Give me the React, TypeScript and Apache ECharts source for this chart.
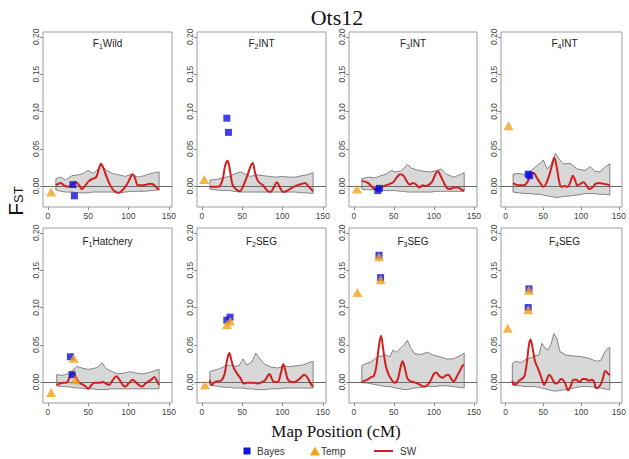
import React, { useEffect, useRef } from "react";
import * as echarts from "echarts";

type P = [number, number];
type B = [number, number, number];

// ---------- labels / ticks ----------
const mainTitle = "Ots12";
const xTitle = "Map Position (cM)";
const yTitleMain = "F";
const yTitleSub = "ST";
const panelSub = ["1", "2", "3", "4", "1", "2", "3", "4"];
const panelRest = ["Wild", "INT", "INT", "INT", "Hatchery", "SEG", "SEG", "SEG"];
const xTicks = [0, 50, 100, 150];
const yTicks = [0, 0.05, 0.1, 0.15, 0.2];
const legendNames = ["Bayes", "Temp", "SW"];

// ---------- F1 Wild ----------
const f1WildSW: P[] = [[10,0.001],[13,0.003],[16,0.004],[20,0.001],[25,-0.001],[30,0.002],[35,0.005],[39,0.001],[42,-0.004],[46,0.000],[51,0.007],[56,0.010],[60,0.012],[63,0.022],[66,0.030],[69,0.024],[73,0.012],[77,0.002],[81,-0.005],[85,-0.008],[88,-0.009],[92,-0.006],[96,-0.001],[100,0.006],[103,0.013],[105,0.016],[108,0.011],[112,0.001],[117,0.001],[122,0.002],[127,0.003],[131,0.002],[135,-0.002],[138,-0.005]];
const f1WildBand: B[] = [[10,-0.005,0.010],[16,-0.007,0.012],[22,-0.008,0.008],[30,-0.008,0.014],[38,-0.009,0.015],[44,-0.009,0.017],[50,-0.009,0.021],[56,-0.008,0.017],[60,-0.008,0.020],[66,-0.008,0.028],[73,-0.008,0.021],[80,-0.008,0.017],[88,-0.009,0.015],[96,-0.008,0.013],[104,-0.007,0.016],[112,-0.007,0.012],[120,-0.007,0.014],[128,-0.006,0.017],[138,-0.005,0.019]];
const f1WildBayes: P[] = [[31,0.002],[33,-0.013]];
const f1WildTemp: P[] = [[4,-0.008]];

// ---------- F2 INT ----------
const f2IntSW: P[] = [[10,-0.001],[16,-0.001],[22,0.000],[26,0.010],[29,0.028],[32,0.034],[35,0.020],[38,0.002],[42,-0.004],[47,-0.007],[52,0.002],[57,0.016],[61,0.028],[63,0.031],[66,0.018],[69,0.008],[72,0.004],[76,0.001],[81,-0.006],[85,-0.008],[89,-0.002],[93,0.005],[97,-0.002],[101,-0.008],[106,-0.006],[112,-0.002],[118,0.001],[124,0.003],[128,0.004],[132,0.000],[138,-0.007]];
const f2IntBand: B[] = [[10,-0.004,0.008],[18,-0.005,0.009],[26,-0.006,0.011],[34,-0.006,0.013],[40,-0.007,0.016],[48,-0.008,0.019],[54,-0.008,0.016],[60,-0.008,0.013],[68,-0.008,0.015],[76,-0.008,0.014],[84,-0.008,0.013],[92,-0.008,0.012],[100,-0.008,0.013],[108,-0.008,0.012],[116,-0.008,0.012],[124,-0.009,0.014],[130,-0.009,0.015],[138,-0.010,0.018]];
const f2IntBayes: P[] = [[31,0.091],[33,0.072]];
const f2IntTemp: P[] = [[3,0.009]];

// ---------- F3 INT ----------
const f3IntSW: P[] = [[10,0.007],[14,0.006],[18,0.004],[22,0.000],[26,-0.004],[30,-0.003],[35,-0.001],[40,0.001],[45,0.003],[49,0.005],[54,0.012],[58,0.016],[62,0.014],[66,0.007],[70,0.002],[74,0.004],[78,0.002],[82,-0.002],[86,0.001],[90,0.000],[94,0.002],[98,0.006],[102,0.016],[105,0.020],[108,0.015],[112,0.006],[116,-0.002],[120,-0.004],[125,-0.002],[130,-0.002],[135,-0.005],[138,-0.006]];
const f3IntBand: B[] = [[10,-0.004,0.010],[18,-0.005,0.012],[26,-0.005,0.011],[34,-0.005,0.014],[40,-0.006,0.016],[47,-0.006,0.021],[52,-0.006,0.019],[58,-0.007,0.020],[63,-0.007,0.024],[67,-0.008,0.029],[72,-0.008,0.024],[78,-0.008,0.022],[86,-0.008,0.020],[96,-0.008,0.019],[104,-0.007,0.021],[109,-0.007,0.023],[116,-0.007,0.016],[125,-0.007,0.012],[132,-0.007,0.015],[138,-0.007,0.018]];
const f3IntBayes: P[] = [[30,-0.006],[32,-0.003]];
const f3IntTemp: P[] = [[4,-0.004]];

// ---------- F4 INT ----------
const f4IntSW: P[] = [[10,0.004],[14,0.002],[19,0.001],[24,0.001],[28,0.004],[32,0.012],[35,0.018],[38,0.017],[42,0.010],[46,0.004],[50,-0.001],[53,0.002],[57,0.012],[61,0.026],[64.5,0.038],[68,0.024],[71,0.006],[74,-0.001],[78,0.000],[82,-0.001],[86,0.006],[89,0.014],[92,0.008],[95,0.001],[99,0.003],[103,0.005],[107,0.001],[111,-0.004],[115,-0.002],[119,0.003],[124,0.004],[130,0.003],[135,0.002],[138,0.001]];
const f4IntBand: B[] = [[10,-0.008,0.016],[18,-0.009,0.017],[26,-0.010,0.015],[33,-0.010,0.020],[40,-0.011,0.026],[46,-0.011,0.031],[50,-0.012,0.035],[55,-0.013,0.023],[60,-0.014,0.028],[66,-0.015,0.044],[71,-0.015,0.036],[76,-0.014,0.030],[86,-0.013,0.030],[95,-0.012,0.023],[105,-0.010,0.021],[112,-0.010,0.026],[118,-0.010,0.020],[125,-0.011,0.019],[131,-0.011,0.025],[138,-0.012,0.030]];
const f4IntBayes: P[] = [[30,0.016],[32,0.014]];
const f4IntTemp: P[] = [[4,0.081]];

// ---------- F1 Hatchery ----------
const f1HatchSW: P[] = [[11,-0.004],[15,-0.002],[19,-0.001],[23,-0.001],[26,0.004],[29,0.011],[32,0.012],[35,0.006],[39,-0.001],[43,-0.003],[47,-0.006],[50,-0.009],[54,-0.004],[58,-0.001],[63,-0.001],[68,0.000],[72,-0.002],[76,-0.004],[80,0.002],[85,0.008],[89,0.003],[93,-0.004],[96,-0.006],[100,-0.002],[105,0.003],[109,0.000],[113,-0.004],[117,-0.006],[121,-0.002],[125,0.001],[129,0.004],[132,0.007],[135,0.002],[138,-0.004]];
const f1HatchBand: B[] = [[11,-0.005,0.010],[18,-0.006,0.009],[24,-0.006,0.011],[30,-0.007,0.015],[36,-0.008,0.021],[42,-0.008,0.019],[50,-0.009,0.017],[56,-0.009,0.018],[62,-0.010,0.020],[67,-0.010,0.026],[72,-0.010,0.018],[78,-0.009,0.015],[86,-0.009,0.011],[94,-0.009,0.012],[102,-0.009,0.014],[110,-0.009,0.012],[118,-0.009,0.011],[126,-0.009,0.013],[132,-0.009,0.015],[138,-0.009,0.017]];
const f1HatchBayes: P[] = [[28,0.034],[30,0.010]];
const f1HatchTemp: P[] = [[4,-0.014],[32,0.032],[34,0.003]];

// ---------- F2 SEG ----------
const f2SegSW: P[] = [[10,0.003],[12,-0.004],[16,0.000],[20,0.001],[24,0.002],[28,0.010],[31,0.028],[34,0.039],[37,0.028],[40,0.018],[44,0.011],[48,0.005],[52,-0.002],[56,-0.001],[60,-0.001],[65,-0.001],[70,-0.002],[74,0.000],[78,0.002],[82,0.009],[84,0.011],[87,0.004],[90,0.000],[94,0.000],[98,0.012],[101,0.024],[104,0.014],[107,0.003],[112,0.000],[117,0.001],[122,0.005],[127,0.010],[131,0.006],[135,-0.002],[138,-0.006]];
const f2SegBand: B[] = [[10,-0.004,0.014],[16,-0.005,0.016],[22,-0.006,0.018],[28,-0.007,0.021],[34,-0.007,0.023],[40,-0.008,0.021],[46,-0.008,0.022],[51,-0.008,0.031],[56,-0.009,0.023],[62,-0.009,0.027],[67,-0.010,0.039],[72,-0.010,0.031],[78,-0.010,0.024],[86,-0.009,0.020],[94,-0.009,0.019],[102,-0.008,0.021],[110,-0.008,0.021],[118,-0.008,0.022],[126,-0.008,0.023],[132,-0.008,0.026],[138,-0.008,0.028]];
const f2SegBayes: P[] = [[31,0.083],[35,0.087]];
const f2SegTemp: P[] = [[4,-0.004],[31,0.077],[35,0.082]];

// ---------- F3 SEG ----------
const f3SegSW: P[] = [[10,0.000],[14,0.002],[18,0.004],[22,0.007],[25,0.008],[28,0.020],[31,0.045],[34,0.062],[37,0.042],[40,0.022],[44,0.009],[48,0.002],[51,-0.001],[55,0.004],[58,0.018],[61,0.028],[64,0.018],[67,0.005],[71,0.001],[75,0.000],[80,-0.002],[85,-0.005],[88,-0.006],[92,-0.004],[96,0.002],[100,0.011],[103,0.013],[107,0.008],[111,0.006],[115,0.009],[118,0.010],[122,0.004],[125,0.001],[129,0.008],[133,0.016],[136,0.022],[138,0.023]];
const f3SegBand: B[] = [[10,-0.001,0.022],[15,-0.001,0.025],[20,-0.002,0.026],[25,-0.003,0.030],[30,-0.004,0.034],[35,-0.005,0.035],[40,-0.006,0.036],[45,-0.006,0.034],[49,-0.007,0.043],[53,-0.008,0.040],[58,-0.009,0.045],[63,-0.010,0.050],[67,-0.010,0.056],[71,-0.009,0.046],[76,-0.008,0.038],[84,-0.007,0.037],[92,-0.006,0.040],[100,-0.006,0.036],[108,-0.005,0.034],[116,-0.005,0.031],[124,-0.006,0.031],[132,-0.007,0.035],[138,-0.008,0.039]];
const f3SegBayes: P[] = [[31.5,0.170],[33.5,0.140]];
const f3SegTemp: P[] = [[4.5,0.120],[31.5,0.168],[33.5,0.137]];

// ---------- F4 SEG ----------
const f4SegSW: P[] = [[9,0.002],[11,-0.003],[14,-0.003],[17,0.001],[21,0.004],[25,0.008],[28,0.025],[31,0.050],[33,0.057],[36,0.044],[39,0.028],[43,0.018],[46,0.010],[49,0.001],[51,-0.004],[54,0.002],[58,0.010],[61,0.006],[64,0.000],[67,-0.002],[70,0.000],[73,0.004],[76,0.003],[79,-0.002],[83,-0.011],[86,-0.006],[90,0.003],[94,0.003],[98,0.000],[102,0.004],[106,0.004],[110,0.002],[114,0.003],[117,0.001],[120,-0.008],[124,-0.006],[128,0.002],[132,0.015],[135,0.012],[138,0.009]];
const f4SegBand: B[] = [[9,-0.004,0.025],[14,-0.005,0.028],[20,-0.005,0.026],[26,-0.006,0.030],[32,-0.006,0.032],[38,-0.006,0.035],[44,-0.007,0.036],[48,-0.008,0.052],[52,-0.009,0.046],[56,-0.010,0.043],[60,-0.011,0.050],[64,-0.012,0.065],[68,-0.012,0.058],[72,-0.011,0.041],[80,-0.010,0.036],[90,-0.008,0.035],[100,-0.006,0.034],[110,-0.006,0.032],[120,-0.007,0.028],[126,-0.008,0.029],[131,-0.009,0.040],[135,-0.010,0.045],[138,-0.010,0.046]];
const f4SegBayes: P[] = [[30,0.100],[31,0.125]];
const f4SegTemp: P[] = [[3,0.072],[30,0.097],[31,0.123]];

const swList = [f1WildSW, f2IntSW, f3IntSW, f4IntSW, f1HatchSW, f2SegSW, f3SegSW, f4SegSW];
const bandList = [f1WildBand, f2IntBand, f3IntBand, f4IntBand, f1HatchBand, f2SegBand, f3SegBand, f4SegBand];
const bayesList = [f1WildBayes, f2IntBayes, f3IntBayes, f4IntBayes, f1HatchBayes, f2SegBayes, f3SegBayes, f4SegBayes];
const tempList = [f1WildTemp, f2IntTemp, f3IntTemp, f4IntTemp, f1HatchTemp, f2SegTemp, f3SegTemp, f4SegTemp];

// ---------- styling / layout ----------
const SANS = "'Liberation Sans', Arial, Helvetica, sans-serif";
const SERIF = "'Liberation Serif', 'Times New Roman', serif";
const BLUE = "#1010e0";
const ORANGE = "#f2a11c";
const RED = "#d21f1f";
const gridLefts = [43, 197, 349, 501];
const gridWidths = [129, 129, 128, 127];
const gridTops = [32, 228];
const gridHeight = 175;
const X_MIN = -6;
const X_MAX = 154;
const Y_MIN = -0.028;
const Y_MAX = 0.2065;

let measureCtx: CanvasRenderingContext2D | null = null;
function textWidth(text: string, size: number, family: string): number {
  if (!measureCtx) measureCtx = document.createElement("canvas").getContext("2d");
  if (!measureCtx) return text.length * size * 0.55;
  measureCtx.font = `${size}px ${family}`;
  return measureCtx.measureText(text).width;
}

// horizontal text with a subscript, centred at (x, y)
function subscriptGroup(x: number, y: number, main: string, sub: string, rest: string, mainSize: number, subSize: number, subDrop: number, fill: string) {
  const w1 = textWidth(main, mainSize, SANS);
  const w2 = textWidth(sub, subSize, SANS);
  const w3 = rest ? textWidth(rest, mainSize, SANS) : 0;
  const x0 = -(w1 + w2 + w3) / 2;
  const children: any[] = [
    { type: "text", x: x0, y: 0, style: { text: main, fontSize: mainSize, fontFamily: SANS, fill, align: "left", verticalAlign: "middle" } },
    { type: "text", x: x0 + w1, y: subDrop, style: { text: sub, fontSize: subSize, fontFamily: SANS, fill, align: "left", verticalAlign: "middle" } },
  ];
  if (rest) children.push({ type: "text", x: x0 + w1 + w2, y: 0, style: { text: rest, fontSize: mainSize, fontFamily: SANS, fill, align: "left", verticalAlign: "middle" } });
  return { type: "group", x, y, silent: true, children };
}

function buildOption() {
  const grid: any[] = [];
  const xAxis: any[] = [];
  const yAxis: any[] = [];
  const series: any[] = [];
  const graphic: any[] = [];

  for (let i = 0; i < 8; i++) {
    const col = i % 4;
    const row = Math.floor(i / 4);
    const left = gridLefts[col];
    const top = gridTops[row];
    const width = gridWidths[col];
    grid.push({ left, top, width, height: gridHeight, show: true, borderColor: "#9c9c9c", borderWidth: 1, backgroundColor: "transparent" });
    xAxis.push({
      gridIndex: i, type: "value", min: X_MIN, max: X_MAX,
      splitLine: { show: false },
      axisLine: { show: false, onZero: false },
      axisTick: { show: true, length: 3, customValues: xTicks, lineStyle: { color: "#8a8a8a" } },
      axisLabel: { customValues: xTicks, fontSize: 8.5, color: "#444", margin: 4, fontFamily: SANS },
    });
    yAxis.push({
      gridIndex: i, type: "value", min: Y_MIN, max: Y_MAX,
      splitLine: { show: false },
      axisLine: { show: false, onZero: false },
      axisTick: { show: true, length: 3, customValues: yTicks, lineStyle: { color: "#8a8a8a" } },
      axisLabel: { customValues: yTicks, rotate: 90, fontSize: 8.5, color: "#444", margin: 3, fontFamily: SANS, formatter: (v: number) => v.toFixed(2) },
    });

    const band = bandList[i];
    series.push({
      type: "custom", xAxisIndex: i, yAxisIndex: i, data: band, encode: { x: 0, y: [1, 2] },
      silent: true, z: 1,
      renderItem: (params: any, api: any) => {
        if (params.dataIndex !== 0) return null;
        const up = band.map((b) => api.coord([b[0], b[2]]));
        const lo = band.map((b) => api.coord([b[0], b[1]])).reverse();
        return { type: "polygon", shape: { points: up.concat(lo) }, style: { fill: "#d8d8d8", stroke: "#6a6a6a", lineWidth: 0.8 } };
      },
    });
    series.push({
      type: "line", name: "SW", xAxisIndex: i, yAxisIndex: i, data: swList[i], smooth: 0.35, symbol: "none",
      lineStyle: { color: RED, width: 2 }, z: 3, silent: true,
      markLine: { z: 2, silent: true, symbol: ["none", "none"], label: { show: false }, lineStyle: { color: "#6a6a6a", width: 1, type: "solid" }, data: [{ yAxis: 0 }] },
    });
    series.push({
      type: "scatter", name: "Bayes", xAxisIndex: i, yAxisIndex: i, data: bayesList[i], symbol: "rect", symbolSize: 7,
      itemStyle: { color: BLUE }, z: 4, silent: true,
    });
    series.push({
      type: "scatter", name: "Temp", xAxisIndex: i, yAxisIndex: i, data: tempList[i], symbol: "triangle", symbolSize: [10, 9],
      itemStyle: { color: ORANGE }, z: 5, silent: true,
    });

    graphic.push(subscriptGroup(left + width / 2, row === 0 ? 43.5 : 241.5, "F", panelSub[i], panelRest[i], 10, 7, 3, "#222"));
  }

  // invisible helper grid carrying the shared rotated y-axis title
  grid.push({ left: 36, top: 32, width: 1, height: 338, show: false });
  xAxis.push({ gridIndex: 8, type: "value", show: false });
  yAxis.push({
    gridIndex: 8, type: "value", min: 0, max: 1,
    axisLine: { show: false }, axisTick: { show: false }, axisLabel: { show: false }, splitLine: { show: false },
    name: `{b|${yTitleMain}}{t|${yTitleSub}}`, nameLocation: "middle", nameRotate: 90, nameGap: 10,
    nameTextStyle: {
      rich: {
        b: { fontSize: 21, fontFamily: SANS, color: "#111" },
        t: { fontSize: 13, fontFamily: SANS, color: "#111", padding: [6, 0, 0, 0] },
      },
    },
  });

  graphic.push({ type: "text", x: 337, y: 17, silent: true, style: { text: mainTitle, fontSize: 22, fontFamily: SERIF, fill: "#111", align: "center", verticalAlign: "middle" } });
  graphic.push({ type: "text", x: 336, y: 431, silent: true, style: { text: xTitle, fontSize: 17, fontFamily: SERIF, fill: "#111", align: "center", verticalAlign: "middle" } });

  // legend
  const ly = 451;
  graphic.push({ type: "rect", shape: { x: 243.5, y: ly - 3.5, width: 7, height: 7 }, style: { fill: BLUE }, silent: true });
  graphic.push({ type: "text", x: 257, y: ly, silent: true, style: { text: legendNames[0], fontSize: 10, fontFamily: SANS, fill: "#333", verticalAlign: "middle" } });
  graphic.push({ type: "polygon", shape: { points: [[310, ly + 4.5], [320, ly + 4.5], [315, ly - 4.5]] }, style: { fill: ORANGE }, silent: true });
  graphic.push({ type: "text", x: 321, y: ly, silent: true, style: { text: legendNames[1], fontSize: 10, fontFamily: SANS, fill: "#333", verticalAlign: "middle" } });
  graphic.push({ type: "line", shape: { x1: 374, y1: ly, x2: 393, y2: ly }, style: { stroke: RED, lineWidth: 2 }, silent: true });
  graphic.push({ type: "text", x: 400, y: ly, silent: true, style: { text: legendNames[2], fontSize: 10, fontFamily: SANS, fill: "#333", verticalAlign: "middle" } });

  return { animation: false, backgroundColor: "#ffffff", grid, xAxis, yAxis, series, graphic };
}

export default function App() {
  const ref = useRef<HTMLDivElement>(null);
  useEffect(() => {
    if (!ref.current) return;
    const chart = echarts.init(ref.current, undefined, { renderer: "svg" });
    chart.setOption(buildOption() as any);
    return () => chart.dispose();
  }, []);
  return <div ref={ref} style={{ position: "fixed", left: 0, top: 0, width: 629, height: 459, background: "#fff" }} />;
}
